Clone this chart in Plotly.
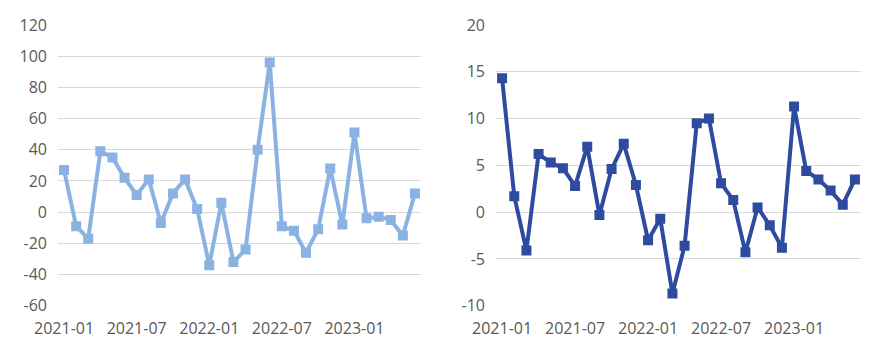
import plotly.graph_objects as go

months = [f"{y}-{m:02d}" for y in (2021, 2022, 2023) for m in range(1, 13)][:30]
tick_labels = ["2021-01", "2021-07", "2022-01", "2022-07", "2023-01"]
left_ticks = [-60, -40, -20, 0, 20, 40, 60, 80, 100, 120]
right_ticks = [-10, -5, 0, 5, 10, 15, 20]

left_values = [27, -9, -17, 39, 35, 22, 11, 21, -7, 12, 21, 2, -34, 6, -32, -24,
               40, 96, -9, -12, -26, -11, 28, -8, 51, -4, -3, -5, -15, 12]
right_values = [14.3, 1.7, -4.1, 6.2, 5.3, 4.7, 2.8, 7.0, -0.3, 4.6, 7.3, 2.9,
                -3.0, -0.7, -8.7, -3.6, 9.5, 10.0, 3.1, 1.3, -4.3, 0.5, -1.4,
                -3.8, 11.3, 4.4, 3.5, 2.3, 0.8, 3.5]

W, H = 886, 361
fig = go.Figure()
fig.add_trace(go.Scatter(x=months, y=left_values, mode="lines+markers",
                         line=dict(color="#8AB2E3", width=4),
                         marker=dict(symbol="square", size=10, color="#8AB2E3"),
                         xaxis="x", yaxis="y", showlegend=False))
fig.add_trace(go.Scatter(x=months, y=right_values, mode="lines+markers",
                         line=dict(color="#2E4B9F", width=4),
                         marker=dict(symbol="square", size=10, color="#2E4B9F"),
                         xaxis="x2", yaxis="y2", showlegend=False))

font = dict(family="Open Sans, sans-serif", size=16, color="#595959")
ydom = [1 - 305.7 / H, 1 - 25 / H]
common_x = dict(type="category", range=[-0.5, 29.5], tickmode="array",
                tickvals=[months[i] for i in (0, 6, 12, 18, 24)], ticktext=tick_labels,
                showgrid=False, zeroline=False, showline=False, ticks="",
                tickfont=font, fixedrange=True, automargin=False, ticklabelstandoff=11)
common_y = dict(showgrid=True, gridcolor="#D9D9D9", gridwidth=1, zeroline=False,
                showline=False, ticks="", tickfont=font, domain=ydom,
                automargin=False, ticklabelstandoff=10, tickmode="array",
                fixedrange=True)

fig.update_layout(
    width=W, height=H, margin=dict(l=0, r=0, t=0, b=0),
    paper_bgcolor="white", plot_bgcolor="white",
    xaxis=dict(domain=[58 / W, 421 / W], anchor="y", **common_x),
    yaxis=dict(range=[-60, 120], tickvals=left_ticks,
               ticktext=[str(v) for v in left_ticks], anchor="x", **common_y),
    xaxis2=dict(domain=[496 / W, 861 / W], anchor="y2", **common_x),
    yaxis2=dict(range=[-10, 20], tickvals=right_ticks,
                ticktext=[str(v) for v in right_ticks], anchor="x2", **common_y),
)
fig.write_html("out.html", config={"displayModeBar": False},
               post_script="document.body.style.margin='0';document.body.style.padding='0';")
